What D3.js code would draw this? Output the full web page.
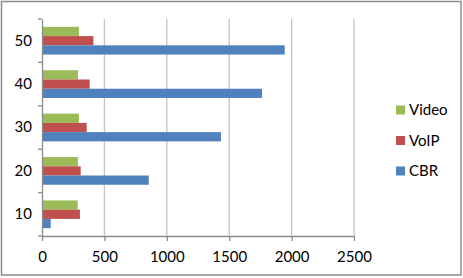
<!DOCTYPE html>
<html>
<head>
<meta charset="utf-8">
<script src="https://cdn.jsdelivr.net/npm/d3@7"></script>
<style>
  body { margin: 0; background: #fff; }
  text { font-family: Lato, "Open Sans", sans-serif; }
</style>
</head>
<body>
<div id="myChart"></div>
<script>
// data
let categories = ["10", "20", "30", "40", "50"];
let seriesNames = ["Video", "VoIP", "CBR"];
let video = [286, 288, 296, 288, 296];
let voip = [304, 310, 358, 382, 412];
let cbr = [70, 855, 1434, 1763, 1945];
let xTicks = [0, 500, 1000, 1500, 2000, 2500];
let colors = {Video: "#9BBB59", VoIP: "#C0504D", CBR: "#4F81BD"};

let values = {Video: video, VoIP: voip, CBR: cbr};

let W = 463, H = 278;
let margin = {top: 19, right: 109, bottom: 42, left: 42},
    width = 354 - margin.left,
    height = 236 - margin.top;

let root = d3.select("#myChart")
    .append("svg")
        .attr("width", W)
        .attr("height", H);

// outer frame
root.append("rect")
    .attr("x", 1.5).attr("y", 1.5)
    .attr("width", W - 3.5).attr("height", H - 4.5)
    .attr("fill", "#fff")
    .attr("stroke", "#8c8c8c")
    .attr("stroke-width", 1.5);

let svg = root.append("g")
    .attr("transform", "translate(" + margin.left + "," + margin.top + ")");

let x = d3.scaleLinear()
    .domain([0, 2500])
    .range([0, width]);

// categories from bottom (10) to top (50)
let y = d3.scaleBand()
    .domain(categories.slice().reverse())
    .range([0, height]);

let inner = d3.scaleBand()
    .domain(seriesNames)
    .range([0, y.bandwidth()])
    .paddingOuter(0.85)
    .paddingInner(0);

// gridlines
svg.append("g")
    .selectAll("line")
    .data(xTicks.slice(1))
    .enter()
    .append("line")
        .attr("x1", d => x(d)).attr("x2", d => x(d))
        .attr("y1", 0).attr("y2", height)
        .attr("stroke", "#c4c4c4")
        .attr("stroke-width", 1.3);

// bars
let groups = svg.append("g")
    .selectAll("g")
    .data(categories)
    .enter()
    .append("g")
        .attr("transform", d => "translate(0," + y(d) + ")");

groups.selectAll("rect")
    .data((c, i) => seriesNames.map(s => ({s: s, v: values[s][i]})))
    .enter()
    .append("rect")
        .attr("x", 0)
        .attr("y", d => inner(d.s))
        .attr("width", d => x(d.v))
        .attr("height", inner.bandwidth())
        .attr("fill", d => colors[d.s]);

// X axis
let xAxis = svg.append("g")
    .attr("transform", "translate(0," + height + ")")
    .call(d3.axisBottom(x).tickValues(xTicks).tickFormat(d3.format("d"))
        .tickSize(5).tickSizeOuter(0).tickPadding(10));
xAxis.selectAll("line, path").attr("stroke", "#8c8c8c").attr("stroke-width", 1.3);
xAxis.selectAll("text").style("font-size", "15px").attr("fill", "#000");

// Y axis
let yAxis = svg.append("g")
    .call(d3.axisLeft(y).tickSize(0).tickPadding(10));
yAxis.select("path").attr("stroke", "#8c8c8c").attr("stroke-width", 1.3);
yAxis.selectAll("text").style("font-size", "15px").attr("fill", "#000");

// category separator ticks
svg.append("g")
    .selectAll("line")
    .data(d3.range(categories.length + 1))
    .enter()
    .append("line")
        .attr("x1", -4).attr("x2", 0)
        .attr("y1", i => i * y.step()).attr("y2", i => i * y.step())
        .attr("stroke", "#8c8c8c")
        .attr("stroke-width", 1.3);

// legend
let legend = root.append("g")
    .selectAll("g")
    .data(seriesNames)
    .enter()
    .append("g")
        .attr("transform", (d, i) => "translate(396," + (110 + i * 30.5) + ")");

legend.append("rect")
    .attr("x", 0).attr("y", -4.5)
    .attr("width", 9).attr("height", 9)
    .attr("fill", d => colors[d]);

legend.append("text")
    .attr("x", 13).attr("y", 0)
    .attr("dy", "0.35em")
    .style("font-size", "15px")
    .text(d => d);
</script>
</body>
</html>
